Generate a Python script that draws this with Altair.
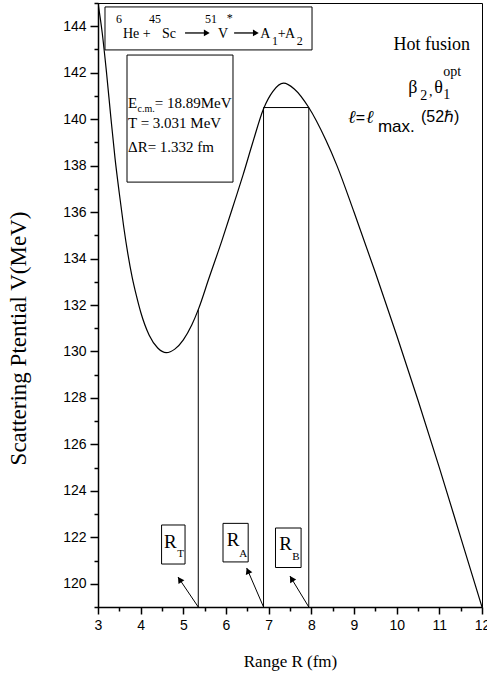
import altair as alt
import pandas as pd

# ---- potential curve (Range R in fm, V in MeV) ----
R_vals = [3.0, 3.1, 3.2, 3.3, 3.4, 3.5, 3.6, 3.7, 3.8, 3.9, 4.0, 4.2, 4.4, 4.6, 4.8,
          5.0, 5.2, 5.35, 5.6, 5.9, 6.2, 6.4, 6.62, 6.88, 7.1, 7.35, 7.6, 7.94, 8.34,
          8.6, 9.0, 9.5, 10.0, 10.5, 11.0, 11.5, 12.0]
V_vals = [145.0, 143.7, 142.0, 140.1, 138.3, 136.8, 135.4, 134.2, 133.2, 132.4, 131.7,
          130.7, 130.15, 129.95, 130.1, 130.5, 131.15, 131.8, 133.15, 134.75, 136.45, 137.6,
          138.95, 140.45, 141.2, 141.55, 141.3, 140.5, 139.1, 138.0, 136.0, 133.4, 130.7,
          127.9, 125.0, 122.0, 119.0]

# ---- marked radii R_T, R_A, R_B ----
mark_names = ["R_T", "R_A", "R_B"]
mark_R = [5.35, 6.88, 7.94]
mark_Vtop = [131.8, 140.5, 140.5]
V_floor = 119.0
barrier_cut_V = 140.5

# arrows pointing to the radii (tip positions / head angle)
arrow_tip_R = [4.875, 6.485, 7.50]
arrow_tip_V = [120.29, 120.68, 120.33]
arrow_head_R = [4.915, 6.513, 7.537]
arrow_head_V = [120.18, 120.56, 120.22]
arrow_angle = [326, 337, 328]

# label boxes of the radii
box_R1 = [4.49, 5.93, 7.16]
box_R2 = [5.04, 6.52, 7.76]
box_V1 = [122.53, 122.6, 122.4]
box_V2 = [120.85, 120.94, 120.7]

x_ticks = [3, 4, 5, 6, 7, 8, 9, 10, 11, 12]
x_minor = [3.5, 4.5, 5.5, 6.5, 7.5, 8.5, 9.5, 10.5, 11.5]
y_ticks = [120, 122, 124, 126, 128, 130, 132, 134, 136, 138, 140, 142, 144]
y_minor = [119, 121, 123, 125, 127, 129, 131, 133, 135, 137, 139, 141, 143, 145]

SERIF = "Liberation Serif"
SANS = "Liberation Sans"

xs = alt.Scale(domain=[3, 12], nice=False, zero=False)
ys = alt.Scale(domain=[119, 145], nice=False, zero=False)

curve_df = pd.DataFrame({"R": R_vals, "V": V_vals})

curve = alt.Chart(curve_df).mark_line(color="black", strokeWidth=1.2, clip=True,
                                       interpolate="monotone").encode(
    x=alt.X("R:Q", scale=xs, axis=alt.Axis(
        orient="bottom", values=x_ticks, format="d", tickSize=7, tickWidth=1.5,
        tickColor="black", domainColor="black", domainWidth=1.5,
        labelFont=SANS, labelFontSize=14, labelColor="black", labelPadding=4,
        labelFlush=False, labelOverlap=False, grid=False,
        title="Range R (fm)", titleFont=SERIF, titleFontSize=17,
        titleFontWeight="normal", titleColor="black", titlePadding=21)),
    y=alt.Y("V:Q", scale=ys, axis=alt.Axis(
        orient="left", values=y_ticks, format="d", tickSize=8, tickWidth=1.5,
        tickColor="black", domainColor="black", domainWidth=1.5,
        labelFont=SANS, labelFontSize=14, labelColor="black", labelPadding=4,
        labelOverlap=False, grid=False,
        title="Scattering Ptential V(MeV)", titleFont=SERIF, titleFontSize=23,
        titleFontWeight="normal", titleColor="black", titleAngle=270,
        titleAlign="center", titleBaseline="middle", titleX=-80, titleY=335)),
)

minor = alt.Chart(curve_df).mark_point(opacity=0).encode(
    x=alt.X("R:Q", scale=xs, axis=alt.Axis(
        orient="bottom", values=x_minor, tickSize=4, tickWidth=1.5, tickColor="black",
        labels=False, domain=False, grid=False, title="")),
    y=alt.Y("V:Q", scale=ys, axis=alt.Axis(
        orient="left", values=y_minor, tickSize=4, tickWidth=1.5, tickColor="black",
        labels=False, domain=False, grid=False, title="")),
)

marks_df = pd.DataFrame({
    "name": mark_names, "R": mark_R, "Vtop": mark_Vtop,
    "Vfloor": [V_floor] * 3,
    "tipR": arrow_tip_R, "tipV": arrow_tip_V,
    "headR": arrow_head_R, "headV": arrow_head_V, "ang": arrow_angle,
    "bR1": box_R1, "bR2": box_R2, "bV1": box_V1, "bV2": box_V2,
})

vlines = alt.Chart(marks_df).mark_rule(color="black", strokeWidth=1).encode(
    x=alt.X("R:Q", scale=xs, axis=None),
    y=alt.Y("Vfloor:Q", scale=ys, axis=None),
    y2="Vtop:Q",
)

hline = alt.Chart(pd.DataFrame({"R1": [mark_R[1]], "R2": [mark_R[2]],
                                "V": [barrier_cut_V]})).mark_rule(
    color="black", strokeWidth=1).encode(
    x=alt.X("R1:Q", scale=xs, axis=None), x2="R2:Q",
    y=alt.Y("V:Q", scale=ys, axis=None),
)

arrow_lines = alt.Chart(marks_df).mark_rule(color="black", strokeWidth=1).encode(
    x=alt.X("R:Q", scale=xs, axis=None), x2="tipR:Q",
    y=alt.Y("Vfloor:Q", scale=ys, axis=None), y2="tipV:Q",
)

arrow_heads = alt.Chart(marks_df).mark_point(
    shape="triangle-up", filled=True, color="black", size=50, opacity=1).encode(
    x=alt.X("headR:Q", scale=xs, axis=None),
    y=alt.Y("headV:Q", scale=ys, axis=None),
    angle=alt.Angle("ang:Q", scale=None),
)

boxes = alt.Chart(marks_df).mark_rect(fill="white", fillOpacity=0, stroke="black",
                                      strokeWidth=1).encode(
    x=alt.X("bR1:Q", scale=xs, axis=None), x2="bR2:Q",
    y=alt.Y("bV1:Q", scale=ys, axis=None), y2="bV2:Q",
)

# ---- framed boxes at top ----
frame_df = pd.DataFrame({"R1": [3.164, 3.68], "R2": [8.016, 6.164],
                         "V1": [144.83, 142.76], "V2": [142.98, 137.29]})
frames = alt.Chart(frame_df).mark_rect(fill="white", fillOpacity=0, stroke="black",
                                       strokeWidth=1).encode(
    x=alt.X("R1:Q", scale=xs, axis=None), x2="R2:Q",
    y=alt.Y("V1:Q", scale=ys, axis=None), y2="V2:Q",
)

# reaction arrows inside the top box
rx_df = pd.DataFrame({"R1": [5.04, 6.19], "R2": [5.55, 6.70], "V": [143.71, 143.71],
                      "H": [5.55, 6.70]})
rx_lines = alt.Chart(rx_df).mark_rule(color="black", strokeWidth=1.3).encode(
    x=alt.X("R1:Q", scale=xs, axis=None), x2="R2:Q",
    y=alt.Y("V:Q", scale=ys, axis=None),
)
rx_heads = alt.Chart(rx_df).mark_point(shape="triangle-right", filled=True,
                                       color="black", size=45, opacity=1).encode(
    x=alt.X("H:Q", scale=xs, axis=None),
    y=alt.Y("V:Q", scale=ys, axis=None),
)

# ---- text pieces: (text, R, V, size, font, italic, align) ----
texts = [
    ("6", 3.42, 144.3, 12, SERIF, False, "left"),
    ("He +", 3.586, 143.68, 14, SERIF, False, "left"),
    ("45", 4.195, 144.3, 12, SERIF, False, "left"),
    ("Sc", 4.50, 143.68, 14, SERIF, False, "left"),
    ("51", 5.51, 144.3, 12, SERIF, False, "left"),
    ("*", 6.02, 144.35, 12, SERIF, False, "left"),
    ("V", 5.81, 143.68, 14, SERIF, False, "left"),
    ("A", 6.80, 143.68, 14, SERIF, False, "left"),
    ("1", 7.08, 143.38, 12, SERIF, False, "left"),
    ("+", 7.21, 143.68, 14, SERIF, False, "left"),
    ("A", 7.38, 143.68, 14, SERIF, False, "left"),
    ("2", 7.66, 143.38, 12, SERIF, False, "left"),
    ("E", 3.703, 140.70, 15, SERIF, False, "left"),
    ("c.m.", 3.926, 140.42, 10, SERIF, False, "left"),
    ("= 18.89MeV", 4.33, 140.70, 15, SERIF, False, "left"),
    ("T = 3.031 MeV", 3.703, 139.83, 15, SERIF, False, "left"),
    ("\u0394R= 1.332 fm", 3.703, 138.80, 15, SERIF, False, "left"),
    ("Hot fusion", 11.72, 143.19, 18, SERIF, False, "right"),
    ("\u03b2", 10.27, 141.34, 18, SERIF, False, "left"),
    ("2", 10.55, 141.0, 14, SERIF, False, "left"),
    (",", 10.76, 141.15, 14, SERIF, False, "left"),
    ("\u03b8", 10.88, 141.34, 18, SERIF, False, "left"),
    ("1", 11.09, 141.04, 14, SERIF, False, "left"),
    ("opt", 11.09, 142.03, 14, SERIF, False, "left"),
    ("\u2113", 8.86, 140.05, 18, SERIF, True, "left"),
    ("=", 9.04, 140.05, 16, SANS, False, "left"),
    ("\u2113", 9.28, 140.05, 18, SERIF, True, "left"),
    ("max.", 9.56, 139.66, 17, SANS, False, "left"),
    ("(52\u210f)", 10.57, 140.09, 16, SANS, False, "left"),
    ("R", 4.547, 121.80, 19, SERIF, False, "left"),
    ("T", 4.86, 121.30, 11, SERIF, False, "left"),
    ("R", 6.02, 121.88, 19, SERIF, False, "left"),
    ("A", 6.31, 121.30, 11, SERIF, False, "left"),
    ("R", 7.25, 121.71, 19, SERIF, False, "left"),
    ("B", 7.55, 121.17, 11, SERIF, False, "left"),
]

text_layers = []
for t, r, v, sz, fnt, it, al in texts:
    kw = dict(fontSize=sz, font=fnt, align=al, baseline="middle", color="black")
    if it:
        kw["fontStyle"] = "italic"
    text_layers.append(
        alt.Chart(pd.DataFrame({"R": [r], "V": [v], "t": [t]})).mark_text(**kw).encode(
            x=alt.X("R:Q", scale=xs, axis=None),
            y=alt.Y("V:Q", scale=ys, axis=None),
            text="t:N",
        )
    )

chart = alt.layer(
    curve, minor, vlines, hline, arrow_lines, arrow_heads, boxes, frames,
    rx_lines, rx_heads, *text_layers
).resolve_axis(x="independent", y="independent").properties(
    width=384, height=604,
    autosize="none",
    padding={"left": 98, "top": 3, "right": 5, "bottom": 70},
    background="white",
).configure_view(stroke="black", strokeWidth=1)

chart.save("out.html", embed_options={"renderer": "svg", "actions": False})
